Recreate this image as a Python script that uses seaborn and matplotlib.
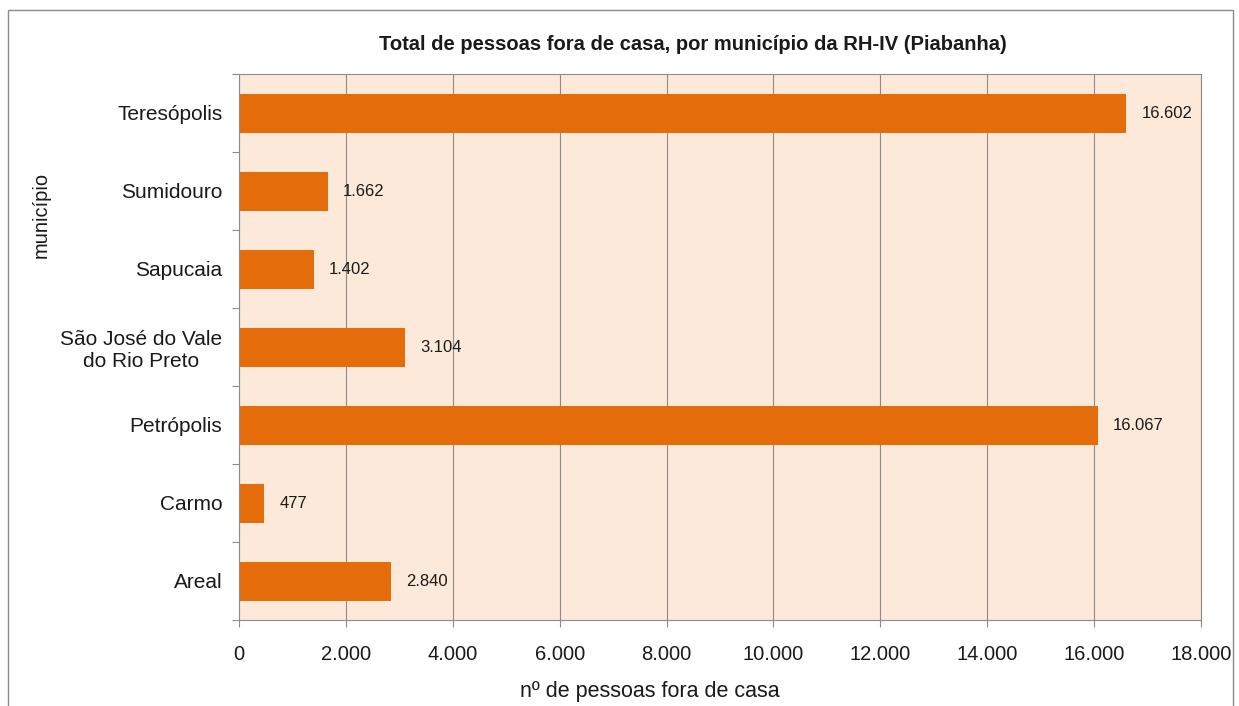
import numpy as np
import pandas as pd
import matplotlib
matplotlib.use("Agg")
import matplotlib.pyplot as plt
import seaborn as sns
from matplotlib.patches import Rectangle
from matplotlib.ticker import FuncFormatter, MultipleLocator

# Data (top to bottom as shown)
municipios = ["Teresópolis", "Sumidouro", "Sapucaia", "São José do Vale\ndo Rio Preto",
              "Petrópolis", "Carmo", "Areal"]
pessoas = [16602, 1662, 1402, 3104, 16067, 477, 2840]

df = pd.DataFrame({"municipio": municipios, "pessoas": pessoas})

sns.set_style("white")
plt.rcParams["font.family"] = ["Liberation Sans", "DejaVu Sans"]

bar_color = "#E46C0A"
bg_color = "#FDE9D9"
grid_color = "#8C8C8C"
text_color = "#1a1a1a"

fig = plt.figure(figsize=(12.39, 7.06), dpi=100)
ax = fig.add_axes([239 / 1239, 1 - 620 / 706, (1201 - 239) / 1239, (620 - 74) / 706])
ax.set_facecolor(bg_color)

sns.barplot(data=df, x="pessoas", y="municipio", orient="h", color=bar_color,
            width=0.5, saturation=1, linewidth=0, ax=ax)

def thousands(v, pos=None):
    return f"{int(v):,}".replace(",", ".")

ax.set_xlim(0, 18000)
ax.set_ylim(len(municipios) - 0.5, -0.5)
ax.xaxis.set_major_locator(MultipleLocator(2000))
ax.xaxis.set_major_formatter(FuncFormatter(thousands))
ax.grid(axis="x", color=grid_color, linewidth=0.8)
ax.set_axisbelow(True)

# value labels
for i, v in enumerate(pessoas):
    ax.annotate(thousands(v), xy=(v, i), xytext=(11, 0), textcoords="offset points",
                va="center", ha="left", fontsize=12, color=text_color)

# Excel style category ticks between categories
ax.set_yticks(np.arange(-0.5, len(municipios), 1), minor=True)
ax.tick_params(axis="y", which="major", left=True, length=0, pad=12, labelsize=15,
               labelcolor=text_color)
ax.tick_params(axis="y", which="minor", left=True, length=5, color=grid_color, width=0.8,
               direction="out")
ax.tick_params(axis="x", which="major", bottom=True, length=5, color=grid_color, width=0.8,
               direction="out", labelsize=14.5, labelcolor=text_color, pad=13)
for lbl in ax.get_yticklabels():
    lbl.set_multialignment("center")

for s in ax.spines.values():
    s.set_color(grid_color)
    s.set_linewidth(0.8)

ax.set_xlabel("")
ax.set_ylabel("")

fig.text(693 / 1239, 1 - 45 / 706, "Total de pessoas fora de casa, por município da RH-IV (Piabanha)",
         ha="center", va="center", fontsize=14.5, fontweight="bold", color=text_color)
fig.text(650 / 1239, 1 - 692 / 706, "nº de pessoas fora de casa",
         ha="center", va="center", fontsize=15.5, color=text_color)
fig.text(41 / 1239, 1 - 215 / 706, "município", rotation=90,
         ha="center", va="center", fontsize=14.5, color=text_color)

# outer chart border
fig.patches.append(Rectangle((8 / 1239, -0.05), (1233 - 8) / 1239, 1 - 10 / 706 + 0.05,
                             transform=fig.transFigure, fill=False,
                             edgecolor="#8C8C8C", linewidth=1))

fig.savefig("out.png", dpi=100)
